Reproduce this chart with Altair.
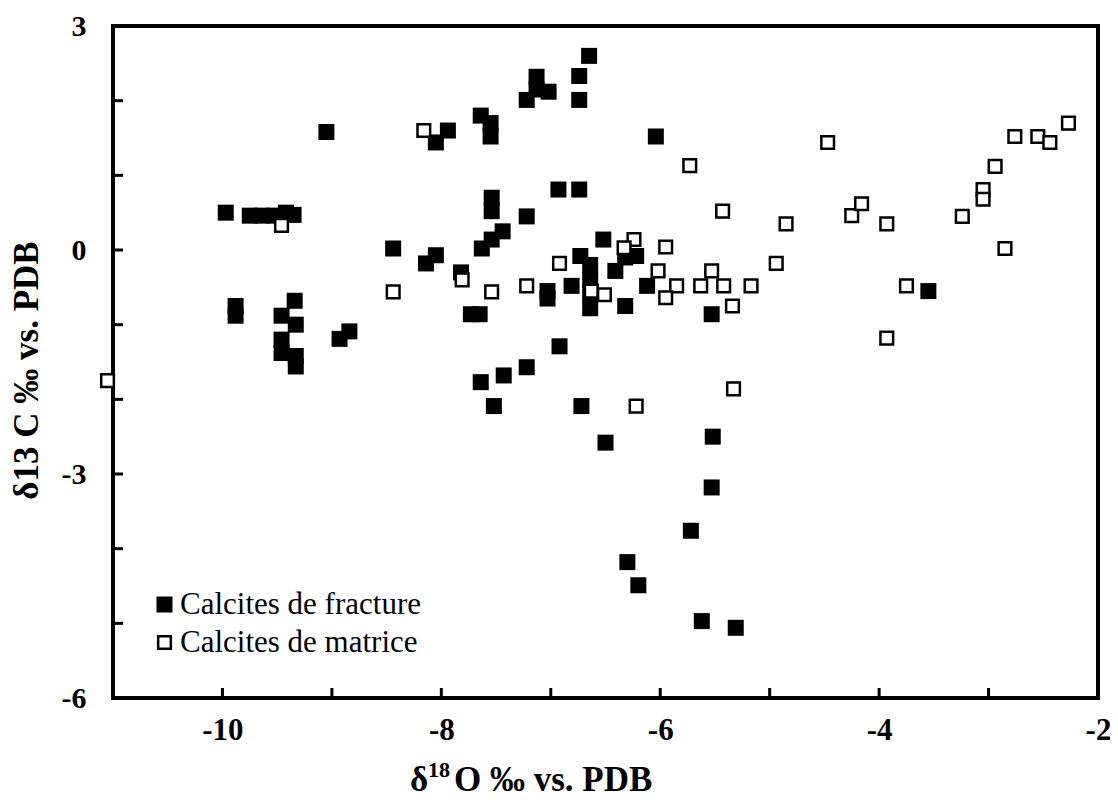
import altair as alt
import pandas as pd

# Calcites de fracture (filled squares): delta18O, delta13C
frac_x = [-9.97, -9.75, -9.64, -9.53, -9.42, -9.35, -9.05, -8.05, -7.94, -8.44,
          -8.05, -8.14, -6.65, -6.74, -6.74, -7.13, -7.13, -7.02, -7.22, -7.64,
          -7.55, -7.55, -6.04, -6.93, -6.74, -7.54, -7.54, -7.22, -7.44, -7.54,
          -7.63, -6.52, -6.22, -6.32, -6.73, -6.41, -7.82, -7.03, -7.03, -6.81,
          -6.64, -6.64, -6.64, -6.64, -6.32, -6.12, -5.53, -3.55, -7.73, -7.65,
          -6.92, -7.22, -7.43, -7.64, -7.52, -6.72, -6.50, -5.52, -5.53, -5.72,
          -6.30, -6.20, -5.62, -5.31, -9.88, -9.88, -9.34, -9.46, -9.33, -9.46,
          -9.46, -9.33, -9.33, -8.84, -8.93]
frac_y = [0.50, 0.46, 0.46, 0.46, 0.50, 0.47, 1.58, 1.44, 1.60, 0.02,
          -0.07, -0.18, 2.60, 2.33, 2.01, 2.32, 2.15, 2.12, 2.01, 1.80,
          1.70, 1.52, 1.52, 0.81, 0.81, 0.70, 0.52, 0.45, 0.25, 0.14,
          0.02, 0.14, -0.08, -0.10, -0.08, -0.28, -0.30, -0.55, -0.65, -0.48,
          -0.20, -0.40, -0.58, -0.78, -0.75, -0.48, -0.86, -0.55, -0.86, -0.86,
          -1.29, -1.57, -1.68, -1.77, -2.09, -2.09, -2.58, -2.50, -3.18, -3.76,
          -4.18, -4.49, -4.97, -5.06, -0.75, -0.88, -0.68, -0.88, -1.00, -1.20,
          -1.38, -1.42, -1.56, -1.09, -1.19]

# Calcites de matrice (open squares)
mat_x = [-8.16, -9.46, -5.73, -5.43, -6.24, -6.33, -5.95, -6.92, -6.02, -5.53,
         -7.81, -7.54, -7.22, -6.63, -6.51, -5.85, -5.95, -5.63, -5.42, -5.17,
         -4.94, -5.34, -3.75, -3.93, -5.33, -6.22, -8.44, -11.05, -4.47, -2.76,
         -2.55, -2.44, -2.27, -2.94, -3.05, -3.05, -3.24, -2.85, -4.25, -4.16,
         -3.93, -4.85]
mat_y = [1.60, 0.33, 1.13, 0.52, 0.14, 0.03, 0.04, -0.18, -0.28, -0.28,
         -0.40, -0.56, -0.48, -0.55, -0.60, -0.48, -0.64, -0.48, -0.48, -0.48,
         -0.18, -0.75, -0.48, -1.18, -1.86, -2.09, -0.56, -1.75, 1.44, 1.52,
         1.52, 1.44, 1.70, 1.12, 0.81, 0.68, 0.45, 0.02, 0.46, 0.62,
         0.35, 0.35]

series_names = ["Calcites de fracture", "Calcites de matrice"]
x_label_values = [-10, -8, -6, -4, -2]
y_label_values = [3, 0, -3, -6]
x_tick_values = [-10, -9, -8, -7, -6, -5, -4, -3]
y_tick_values = [-5, -4, -3, -2, -1, 0, 1, 2]
x_title_parts = ["δ", "18", "O ‰ vs. PDB"]
y_title = "δ13 C ‰ vs. PDB"

df = pd.DataFrame({
    "o18": frac_x + mat_x,
    "c13": frac_y + mat_y,
    "serie": [series_names[0]] * len(frac_x) + [series_names[1]] * len(mat_x),
})
xt = pd.DataFrame({"o18": x_tick_values})
yt = pd.DataFrame({"c13": y_tick_values})

W, H = 985, 672
FONT = "Liberation Serif"

xscale = alt.Scale(domain=[-11, -2], nice=False, zero=False)
yscale = alt.Scale(domain=[-6, 3], nice=False, zero=False)

xaxis = alt.Axis(values=x_label_values, ticks=False, domain=False, grid=False,
                 labelFont=FONT, labelFontWeight="bold", labelFontSize=31,
                 labelColor="black", labelPadding=17, labelFlush=False,
                 labelOverlap=False, labelExpr="toString(datum.value)",
                 title=None)
yaxis = alt.Axis(values=y_label_values, ticks=False, domain=False, grid=False,
                 labelFont=FONT, labelFontWeight="bold", labelFontSize=30,
                 labelColor="black", labelPadding=27, labelFlush=False,
                 labelOverlap=False, labelExpr="toString(datum.value)",
                 title=y_title, titleFont=FONT, titleFontSize=35,
                 titleFontWeight="bold", titleColor="black", titleAngle=270,
                 titleX=-76, titleY=344, titleAlign="center",
                 titleBaseline="alphabetic")

X = alt.X("o18:Q", scale=xscale, axis=xaxis)
Y = alt.Y("c13:Q", scale=yscale, axis=yaxis)

leg = alt.Legend(orient="none", legendX=36, legendY=563, title=None,
                 labelFont=FONT, labelFontSize=31, labelColor="black",
                 labelLimit=500, rowPadding=6, labelOffset=0, symbolType="square",
                 symbolStrokeWidth=2, padding=0)

points = alt.Chart(df).mark_point(shape="square", opacity=1).encode(
    x=X, y=Y,
    fill=alt.Fill("serie:N", scale=alt.Scale(domain=series_names, range=["black", "white"]), legend=leg),
    stroke=alt.Stroke("serie:N", scale=alt.Scale(domain=series_names, range=["black", "black"]), legend=leg),
    size=alt.Size("serie:N", scale=alt.Scale(domain=series_names, range=[256, 160]), legend=leg),
    strokeWidth=alt.StrokeWidth("serie:N", scale=alt.Scale(domain=series_names, range=[0.01, 2.5]), legend=None),
)

xticks = alt.Chart(xt).mark_rule(color="black", strokeWidth=3).encode(
    x=X, y=alt.value(H), y2=alt.value(H - 10))
yticks = alt.Chart(yt).mark_rule(color="black", strokeWidth=3).encode(
    y=Y, x=alt.value(0), x2=alt.value(10))

# x-axis title, with the superscript "18"
t_delta = alt.Chart(pd.DataFrame({"t": [x_title_parts[0]]})).mark_text(
    font=FONT, fontSize=35, fontWeight="bold", align="left", baseline="alphabetic",
    color="black").encode(text="t:N", x=alt.value(297), y=alt.value(765))
t_sup = alt.Chart(pd.DataFrame({"t": [x_title_parts[1]]})).mark_text(
    font=FONT, fontSize=22, fontWeight="bold", align="left", baseline="alphabetic",
    color="black").encode(text="t:N", x=alt.value(315), y=alt.value(751))
t_rest = alt.Chart(pd.DataFrame({"t": [x_title_parts[2]]})).mark_text(
    font=FONT, fontSize=35, fontWeight="bold", align="left", baseline="alphabetic",
    color="black").encode(text="t:N", x=alt.value(341), y=alt.value(765))

chart = alt.layer(xticks, yticks, points, t_delta, t_sup, t_rest).properties(
    width=W, height=H,
    autosize=alt.AutoSizeParams(type="none"),
    padding={"left": 105, "top": 18, "right": 12, "bottom": 101},
).configure(font=FONT, background="white").configure_view(stroke="black", strokeWidth=4)

chart.save("out.html", embed_options={"renderer": "svg", "actions": False})
